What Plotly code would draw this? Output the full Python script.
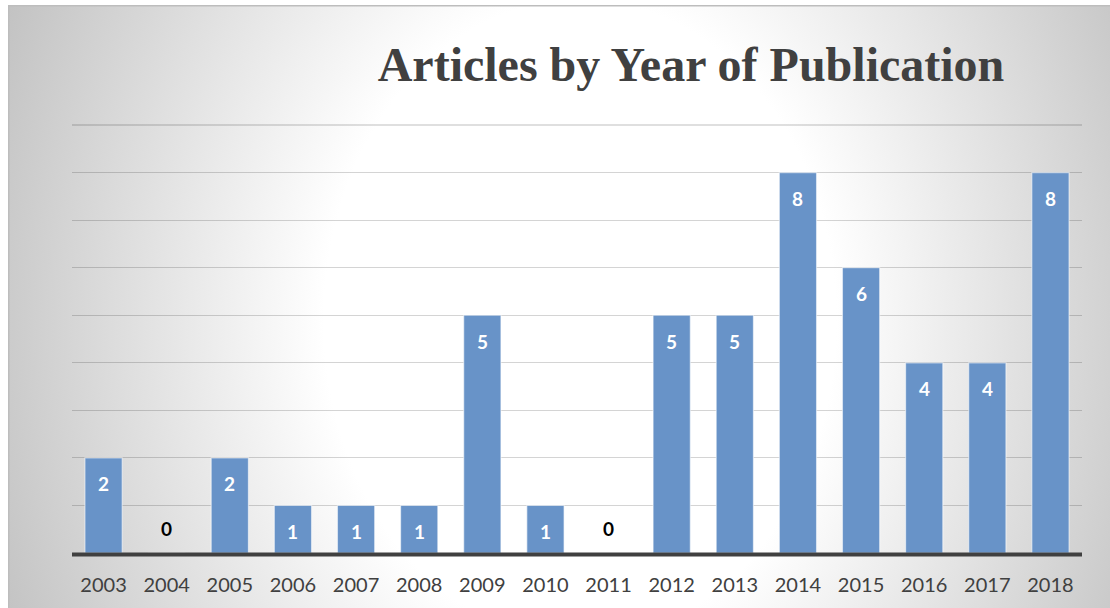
import base64
import plotly.graph_objects as go

# ---- data ----
years = ["2003", "2004", "2005", "2006", "2007", "2008", "2009", "2010",
         "2011", "2012", "2013", "2014", "2015", "2016", "2017", "2018"]
articles = [2, 0, 2, 1, 1, 1, 5, 1, 0, 5, 5, 8, 6, 4, 4, 8]
title_text = "Articles by Year of Publication"
y_max = 9

# ---- layout geometry ----
W, H = 1110, 608
L, R, T, B = 72, 28, 125, 55
pw, ph = W - L - R, H - T - B

BAR_COLOR = "#6893c8"
GRID_COLOR = "rgba(0,0,0,0.17)"

# background panel: elliptical radial gradient with a thin grey frame
svg = """<svg xmlns="http://www.w3.org/2000/svg" width="1104" height="605" viewBox="0 0 1104 605">
<defs><radialGradient id="g" gradientUnits="userSpaceOnUse" cx="0" cy="0" r="1"
 gradientTransform="translate(572,315) scale(640,800)">
<stop offset="0" stop-color="#ffffff"/><stop offset="0.4" stop-color="#ffffff"/>
<stop offset="1" stop-color="#c0c0c0"/></radialGradient></defs>
<rect x="0" y="0" width="1104" height="605" fill="url(#g)"/>
<rect x="0.75" y="0.75" width="1110" height="620" fill="none" stroke="#bdbdbd" stroke-width="1.5"/>
</svg>"""
svg_uri = "data:image/svg+xml;base64," + base64.b64encode(svg.encode()).decode()

fig = go.Figure()
fig.add_trace(go.Bar(
    x=years, y=articles,
    marker=dict(color=BAR_COLOR, line=dict(color="rgba(255,255,255,0.55)", width=1.2)),
    width=0.59,
    hoverinfo="x+y",
))

annotations = []
for i, v in enumerate(articles):
    if v > 0:
        annotations.append(dict(
            x=i, y=v, xref="x", yref="y", text=str(v), showarrow=False,
            yanchor="middle", yshift=-26,
            font=dict(family="Lato", size=19, color="white", weight="bold"),
        ))
    else:
        annotations.append(dict(
            x=i, y=0, xref="x", yref="y", text=str(v), showarrow=False,
            yanchor="middle", yshift=25,
            font=dict(family="Lato", size=19, color="black", weight="bold"),
        ))

fig.update_layout(
    width=W, height=H,
    margin=dict(l=L, r=R, t=T, b=B, pad=0, autoexpand=False),
    paper_bgcolor="white",
    plot_bgcolor="rgba(0,0,0,0)",
    showlegend=False,
    title=dict(
        text=title_text,
        x=(691 - L) / pw, xref="paper", xanchor="center",
        y=1 - 64 / H, yref="container", yanchor="middle",
        font=dict(family="Liberation Serif", size=48, color="#404040", weight="bold"),
    ),
    xaxis=dict(
        type="category", range=[-0.5, len(years) - 0.5], autorange=False,
        automargin=False,
        showgrid=False, zeroline=False, showline=False,
        ticks="outside", ticklen=14, tickcolor="rgba(0,0,0,0)",
        tickfont=dict(family="Lato", size=20, color="#404040"),
    ),
    yaxis=dict(
        range=[0, y_max], autorange=False, dtick=1, automargin=False,
        showticklabels=False, showgrid=True,
        gridcolor=GRID_COLOR, gridwidth=1.3,
        zeroline=False, showline=False,
    ),
    annotations=annotations,
    images=[dict(
        source=svg_uri, xref="paper", yref="paper",
        x=(8 - L) / pw, y=(H - B - 5) / ph,
        sizex=1104 / pw, sizey=605 / ph,
        xanchor="left", yanchor="top", sizing="stretch", layer="below",
    )],
    shapes=[
        # top gridline (value = y_max) that plotly skips at the range edge
        dict(type="line", xref="paper", yref="paper", x0=0, x1=1, y0=1, y1=1,
             line=dict(color=GRID_COLOR, width=1.3), layer="below"),
        # x axis base line
        dict(type="line", xref="paper", yref="paper", x0=0, x1=1,
             y0=-1.5 / ph, y1=-1.5 / ph,
             line=dict(color="#404040", width=4), layer="above"),
    ],
)

fig.write_html(
    "out.html",
    config={"displayModeBar": False},
    post_script="document.body.style.margin='0';document.body.style.overflow='hidden';",
)
